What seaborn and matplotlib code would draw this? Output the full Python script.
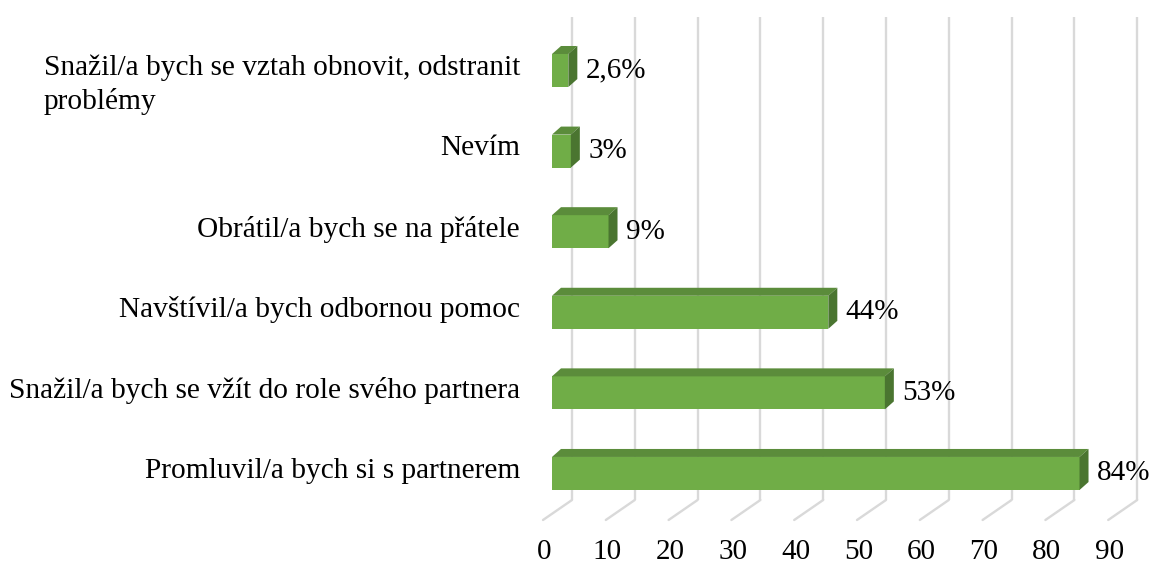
import numpy as np
import pandas as pd
import matplotlib
matplotlib.use("Agg")
import matplotlib.pyplot as plt
import seaborn as sns
from matplotlib.patches import Polygon

# ---------------- data ----------------
categories = [
    "Snažil/a bych se vztah obnovit, odstranit\nproblémy",
    "Nevím",
    "Obrátil/a bych se na přátele",
    "Navštívil/a bych odbornou pomoc",
    "Snažil/a bych se vžít do role svého partnera",
    "Promluvil/a bych si s partnerem",
]
values = [2.6, 3, 9, 44, 53, 84]
value_labels = ["2,6%", "3%", "9%", "44%", "53%", "84%"]
x_ticks = [0, 10, 20, 30, 40, 50, 60, 70, 80, 90]

df = pd.DataFrame({"kategorie": categories, "hodnota": values})

# ---------------- style ----------------
sns.set_theme(style="white")
plt.rcParams["font.family"] = ["Liberation Serif", "DejaVu Serif"]
plt.rcParams["text.color"] = "black"
plt.rcParams["xtick.color"] = "black"
plt.rcParams["ytick.color"] = "black"

FRONT = "#70ad47"
TOP = "#5b8c3b"
SIDE = "#4a7530"
GRID = "#d9d9d9"

W, H = 1149, 565
fig = plt.figure(figsize=(W / 100, H / 100), dpi=100)

# pixel geometry of the plot area
px_per_unit = 6.28
x0_px = 552          # front face of bars at value 0
xmin, xmax = -3, 94
top_px, bot_px = 17, 500
ylo, yhi = -0.664, 5.329
left = (x0_px + xmin * px_per_unit) / W
width = (xmax - xmin) * px_per_unit / W
ax = fig.add_axes([left, 1 - bot_px / H, width, (bot_px - top_px) / H])

sns.barplot(data=df, x="hodnota", y="kategorie", orient="h", order=categories,
            color=FRONT, saturation=1, width=0.41, ax=ax, zorder=3)
ax.set_xlim(xmin, xmax)
ax.set_ylim(yhi, ylo)

# 3D depth faces on each bar
dx = 9 / px_per_unit
dy = 8 / ((bot_px - top_px) / (yhi - ylo))
for p in ax.patches[:len(values)]:
    p.set_edgecolor("none")
    xa, xb = p.get_x(), p.get_x() + p.get_width()
    yt, yb = p.get_y(), p.get_y() + p.get_height()
    ax.add_patch(Polygon([(xa, yt), (xa + dx, yt - dy), (xb + dx, yt - dy), (xb, yt)],
                         closed=True, fc=TOP, ec="none", zorder=3))
    ax.add_patch(Polygon([(xb, yt), (xb + dx, yt - dy), (xb + dx, yb - dy), (xb, yb)],
                         closed=True, fc=SIDE, ec="none", zorder=3))

# back wall gridlines and floor diagonals
back_off = 20 / px_per_unit
front_off = -9 / px_per_unit
floor_drop = -20 / (bot_px - top_px)
xt = np.array(x_ticks, dtype=float)
trans = ax.get_xaxis_transform()
ax.vlines(xt + back_off, 0, 1, transform=trans, color=GRID, lw=1.7, zorder=0)
for t in xt:
    ax.plot([t + back_off, t + front_off], [0, floor_drop], transform=trans,
            color=GRID, lw=1.7, clip_on=False, zorder=0)

# value labels
for i, (v, lab) in enumerate(zip(values, value_labels)):
    ax.annotate(lab, xy=(v, i), xytext=(12.5, 0), textcoords="offset points",
                ha="left", va="center", fontsize=21, color="black")

# axes ticks
ax.set_xticks(xt - 1.2)
ax.set_xticklabels([str(t) for t in x_ticks], fontsize=21)
ax.tick_params(axis="x", length=0, pad=28)
ytick_pos = np.arange(len(categories)) + np.array([0.09, -0.07, -0.07, -0.07, -0.07, -0.07])
ax.set_yticks(ytick_pos)
ax.set_yticklabels(categories, fontsize=21.2, multialignment="left", linespacing=1.35)
ax.tick_params(axis="y", length=0, pad=9.5)
ax.set_xlabel("")
ax.set_ylabel("")
for s in ax.spines.values():
    s.set_visible(False)
ax.grid(False)

fig.savefig("out.png", dpi=100, facecolor="white")
